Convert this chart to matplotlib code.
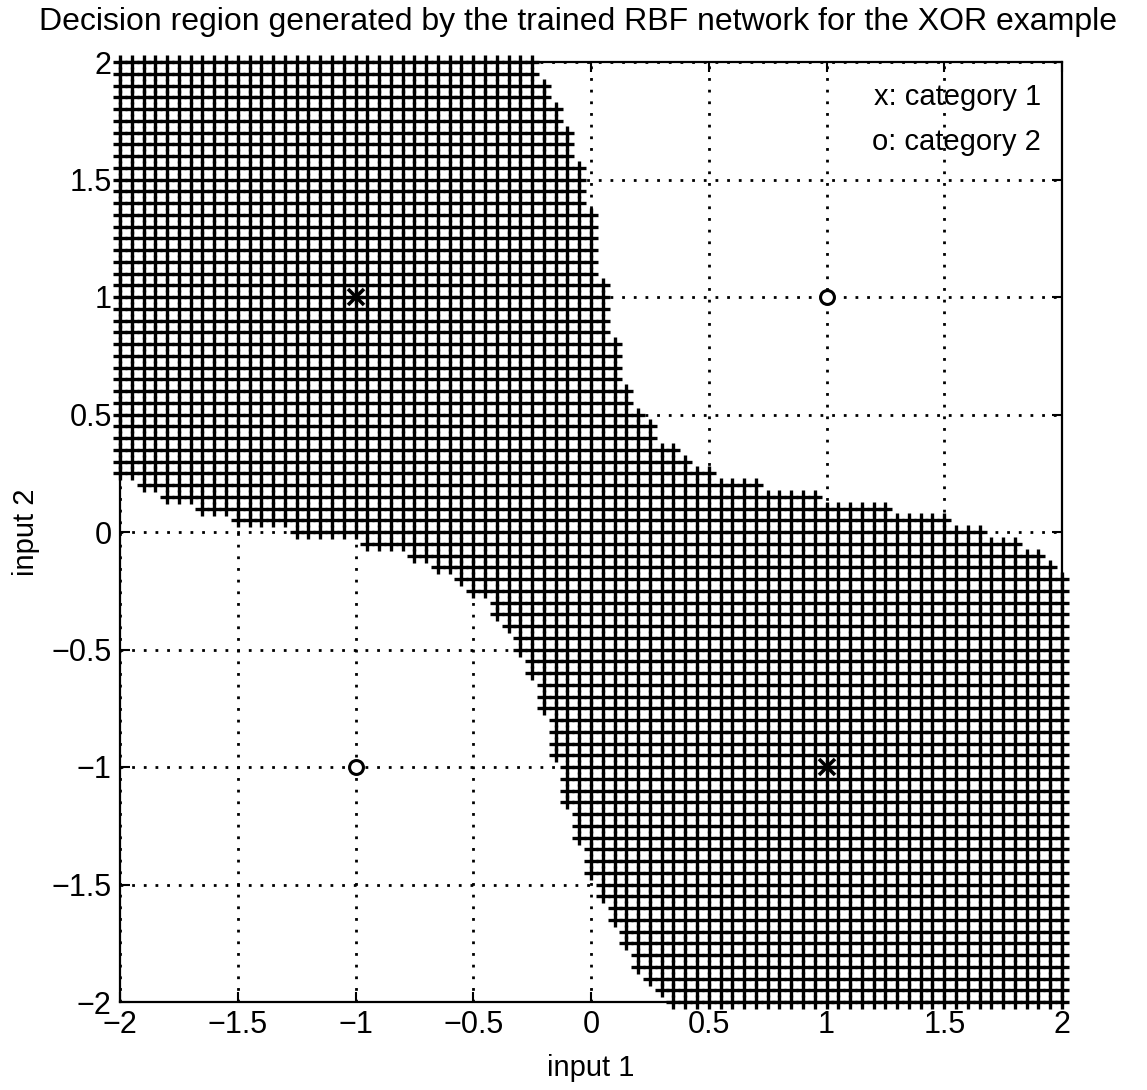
import numpy as np
import matplotlib
matplotlib.use("Agg")
import matplotlib.pyplot as plt

plt.rcParams['font.family'] = ['Liberation Sans', 'DejaVu Sans']

# grid of the decision surface: 81 x 81 points, step 0.05
grid_x = np.linspace(-2, 2, 81)
grid_y = np.linspace(2, -2, 81)   # rows from top to bottom

# per row (top to bottom): first and last column index that is category 1
row_first_col = [0] * 36 + [
    2, 4, 7, 10, 15, 21, 25, 27, 29, 30,
    32, 32, 33, 34, 34, 35, 35, 36, 36, 36,
    37, 37, 37, 37, 38, 38, 38, 38, 39, 39,
    39, 40, 40, 40, 41, 41, 42, 42, 43, 43,
    44, 44, 45, 46, 47,
]
row_last_col = [
    35, 35, 36, 36, 37, 37, 38, 38, 38, 39,
    39, 39, 39, 40, 40, 40, 40, 40, 40, 41,
    41, 41, 41, 41, 42, 42, 42, 42, 43, 43,
    44, 45, 45, 47, 48, 50, 54, 59, 65, 70,
    73, 76, 78, 79,
] + [80] * 37

# training points of the XOR problem
cat1_x = [-1, 1]
cat1_y = [1, -1]
cat2_x = [1, -1]
cat2_y = [1, -1]

tick_values = [-2, -1.5, -1, -0.5, 0, 0.5, 1, 1.5, 2]
tick_labels = ['\u22122', '\u22121.5', '\u22121', '\u22120.5', '0', '0.5', '1', '1.5', '2']

W, H = 1147, 1090
fig = plt.figure(figsize=(W / 100, H / 100), dpi=100)
ax = fig.add_axes([120 / W, 1 - 1002 / H, (1062 - 120) / W, (1002 - 62) / H])

xs, ys = [], []
for y, first, last in zip(grid_y, row_first_col, row_last_col):
    for x in grid_x[first:last + 1]:
        xs.append(x)
        ys.append(y)

ax.grid(True, color='black', linestyle=(0, (1, 3.2)), linewidth=2.0)
ax.set_axisbelow(True)
ax.plot(xs, ys, '+', color='black', ms=10.5, mew=2.4, clip_on=False, zorder=3)
ax.plot(cat1_x, cat1_y, 'x', color='black', ms=12, mew=2.6, zorder=4)
ax.plot(cat2_x, cat2_y, 'o', color='black', mfc='white', ms=10, mew=2.2, zorder=4)

ax.set_xlim(-2, 2)
ax.set_ylim(-2, 2)
ax.set_xticks(tick_values)
ax.set_xticklabels(tick_labels)
ax.set_yticks(tick_values)
ax.set_yticklabels(tick_labels)
ax.tick_params(direction='in', length=7, width=1.5, labelsize=22, pad=6,
               top=True, right=True)
for spine in ax.spines.values():
    spine.set_linewidth(1.6)

ax.text(1.91, 1.85, 'x: category 1', ha='right', va='center', fontsize=21)
ax.text(1.91, 1.66, 'o: category 2', ha='right', va='center', fontsize=21)

ax.set_xlabel('input 1', fontsize=21, labelpad=10)
ax.set_ylabel('input 2', fontsize=21, labelpad=8)
fig.text(578 / W, 1 - 22 / H,
         'Decision region generated by the trained RBF network for the XOR example',
         ha='center', va='center', fontsize=23)

fig.savefig('out.png', dpi=100)
